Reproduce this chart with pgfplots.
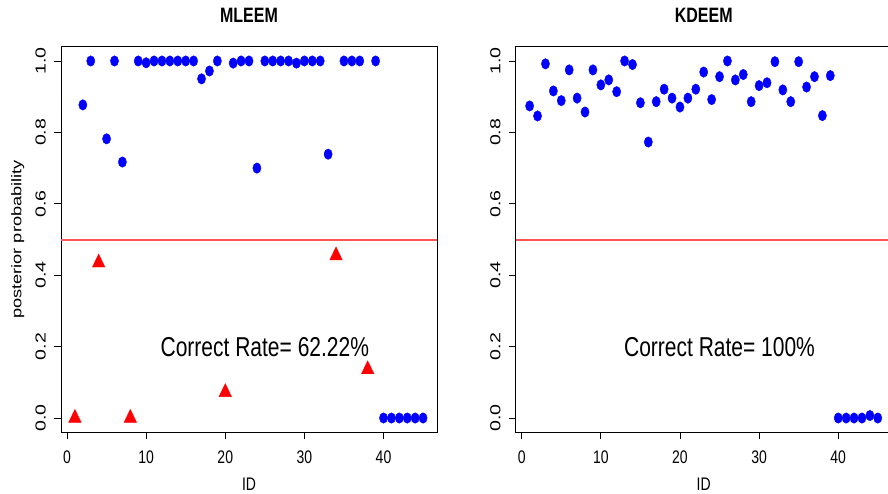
\documentclass[border=0pt]{standalone}
\usepackage{graphicx}
\usepackage{fontspec}
\setmainfont{Liberation Sans}
\usepackage{pgfplots}
\pgfplotsset{compat=1.18}
\definecolor{rblue}{RGB}{0,0,255}
\definecolor{rred}{RGB}{255,0,0}
\definecolor{refline}{RGB}{255,85,85}
\pgfplotsset{
  rstyle/.style={
    scale only axis, width=376pt, height=385.6pt,
    anchor=south west,
    xmin=-0.76, xmax=46.76, ymin=-0.04, ymax=1.04,
    axis line style={line width=0.8pt, black},
    xtick={0,10,20,30,40}, ytick={0,0.2,0.4,0.6,0.8,1.0},
    xtick pos=left, ytick pos=left,
    tick align=outside, major tick length=7pt,
    tick style={line width=0.8pt, black},
    /pgf/number format/assume math mode=true,
    xticklabel={\scalebox{1}[1.3]{\pgfmathprintnumber{\tick}}},
    yticklabel={\scalebox{1.35}[1]{\pgfmathprintnumber[fixed,fixed zerofill,precision=1]{\tick}}},
    xticklabel style={font=\fontsize{14}{14}\selectfont, inner sep=0pt, yshift=-11pt},
    yticklabel style={font=\fontsize{14.5}{14.5}\selectfont, rotate=90, anchor=south, inner sep=0pt, yshift=8pt},
    clip mode=individual,
  },
  bluedots/.style={color=rblue, only marks, mark=*, mark size=4.1pt, mark options={draw=none, fill=rblue, yscale=1.28}},
  redtri/.style={color=rred, only marks, mark=triangle*, mark size=7.2pt, mark options={draw=none, fill=rred, yscale=1.2}},
  redline/.style={color=refline, only marks, mark=square*, mark size=1pt, mark options={draw=none, fill=refline, xscale=187.5, yscale=0.7}},
}
\begin{document}
\begin{tikzpicture}[x=1pt,y=1pt]
\useasboundingbox (0,0) rectangle (888,493);
% ---------------- Left panel: MLEEM ----------------
\begin{axis}[rstyle, at={(61pt,60.7pt)}]
% horizontal reference line at 0.5 (one stretched mark centred in the box)
\addplot[redline] coordinates {(23,0.5)};
\addplot[bluedots] coordinates {
(2,0.877) (3,1.0) (5,0.782) (6,1.0) (7,0.717) (9,1.0) (10,0.995) (11,1.0)
(12,1.0) (13,1.0) (14,1.0) (15,1.0) (16,1.0) (17,0.950) (18,0.972) (19,1.0)
(21,0.994) (22,1.0) (23,1.0) (24,0.700) (25,1.0) (26,1.0) (27,1.0) (28,1.0)
(29,0.994) (30,1.0) (31,1.0) (32,1.0) (33,0.739) (35,1.0) (36,1.0) (37,1.0)
(39,1.0) (40,0) (41,0) (42,0) (43,0) (44,0) (45,0)
};
\addplot[redtri] coordinates {
(1,0.0) (4,0.435) (8,0.0) (20,0.072) (34,0.455) (38,0.136)
};
\node at (axis cs:25,0.2) {\fontsize{21}{21}\selectfont\scalebox{1}[1.3]{Correct Rate= 62.22\%}};
\node at (axis description cs:0.5,1.082) {\fontsize{16}{16}\selectfont\bfseries\scalebox{1}[1.3]{MLEEM}};
\node at (axis description cs:0.5,-0.135) {\fontsize{14}{14}\selectfont\scalebox{1}[1.3]{ID}};
\node[rotate=90] at (axis description cs:-0.115,0.5) {\fontsize{14}{14}\selectfont\scalebox{1.3}[1]{posterior probability}};
\end{axis}
% ---------------- Right panel: KDEEM ----------------
\begin{axis}[rstyle, at={(515.7pt,60.7pt)}]
\addplot[redline] coordinates {(23,0.5)};
\addplot[bluedots] coordinates {
(1,0.874) (2,0.846) (3,0.992) (4,0.916) (5,0.889) (6,0.975) (7,0.896) (8,0.857)
(9,0.975) (10,0.933) (11,0.947) (12,0.914) (13,1.0) (14,0.990) (15,0.883) (16,0.773)
(17,0.886) (18,0.921) (19,0.896) (20,0.871) (21,0.896) (22,0.921) (23,0.969) (24,0.892)
(25,0.956) (26,1.0) (27,0.947) (28,0.962) (29,0.886) (30,0.931) (31,0.939) (32,0.998)
(33,0.919) (34,0.886) (35,0.998) (36,0.927) (37,0.956) (38,0.847) (39,0.959)
(40,0) (41,0) (42,0) (43,0) (44,0.007) (45,0)
};
\node at (axis cs:25,0.2) {\fontsize{21}{21}\selectfont\scalebox{1}[1.3]{Correct Rate= 100\%}};
\node at (axis description cs:0.5,1.082) {\fontsize{16}{16}\selectfont\bfseries\scalebox{1}[1.3]{KDEEM}};
\node at (axis description cs:0.5,-0.135) {\fontsize{14}{14}\selectfont\scalebox{1}[1.3]{ID}};
\end{axis}
\end{tikzpicture}
\end{document}
